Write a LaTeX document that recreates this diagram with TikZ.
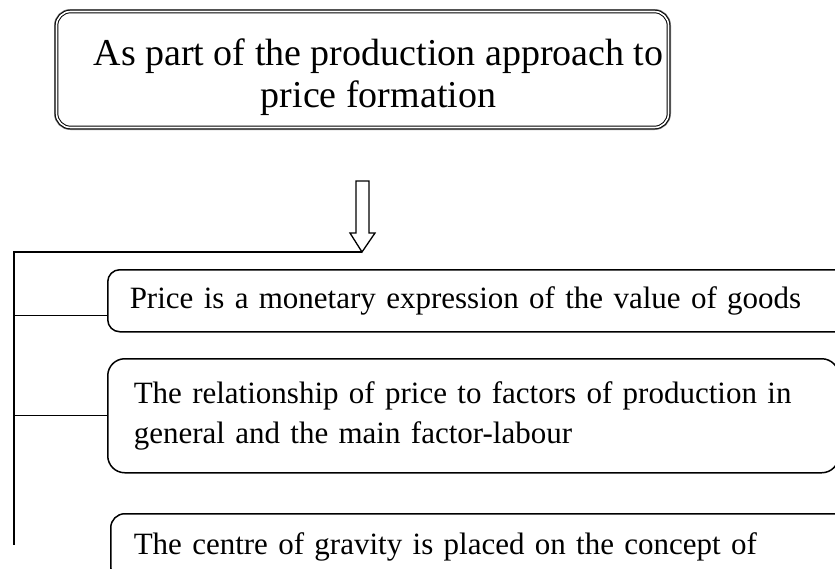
\documentclass[tikz,border=0pt]{standalone}
\usepackage{fontspec}
\setmainfont{Liberation Serif}
\usetikzlibrary{positioning,calc}
\newcommand{\titlesize}{\fontsize{38}{42}\selectfont}
\newcommand{\itemsize}{\fontsize{31}{40}\selectfont}

\begin{document}
\begin{tikzpicture}[x=1pt,y=-1pt]
  \tikzset{titleframe/.style={draw=black, line width=1pt, double=white, double distance=1.6pt, fill=white, rounded corners=14pt, minimum width=612pt, minimum height=116pt, preaction={draw=gray, line width=5pt}},
    infobox/.style={draw, line width=1.5pt, fill=white, anchor=north west, align=left, font=\itemsize, inner ysep=0pt},
    linkline/.style={line width=1.1pt},
    hollowarrow/.style={line width=1.3pt, fill=white, line join=miter}}
  \useasboundingbox (0,0) rectangle (835,568);
  \clip (0,0) rectangle (835,568);
  % heading
  \node[titleframe] (title) at (362.5,69.5) {};
  \node[font=\titlesize, align=center, inner sep=0pt] (titletext) at ([xshift=16pt,yshift=-7.5pt]title.center) {As part of the production approach to\\price formation};
  % items
  \node[infobox, rounded corners=12pt, minimum width=743pt, minimum height=62pt, inner xsep=22pt, text width=699pt] (b1) at (107,269) {Price is a monetary expression of the value of goods};
  \node[infobox, rounded corners=17pt, minimum width=731pt, minimum height=114pt, inner xsep=26pt, text width=679pt] (b2) at (107,358) {The relationship of price to factors of production in\\general and the main factor-labour};
  \node[infobox, rounded corners=14pt, minimum width=740pt, inner xsep=23pt, inner ysep=19pt, text width=694pt] (b3) at (110,513) {The centre of gravity is placed on the concept of};
  % arrow and branches
  \coordinate (tip) at (362,252);
  \coordinate (trunkend) at (14,545);
  \coordinate (b1br) at ([yshift=-15pt]b1.west);
  \draw[hollowarrow] (tip) -- ++(-12,-19) -- ++(6,0) -- ++(0,-52) -- ++(13,0) -- ++(0,52) -- ++(6,0) -- cycle;
  \draw[linkline] (tip) -| (trunkend);
  \draw[linkline] (trunkend |- b1br) -- (b1br);
  \draw[linkline] (trunkend |- b2.west) -- (b2.west);
\end{tikzpicture}
\end{document}
